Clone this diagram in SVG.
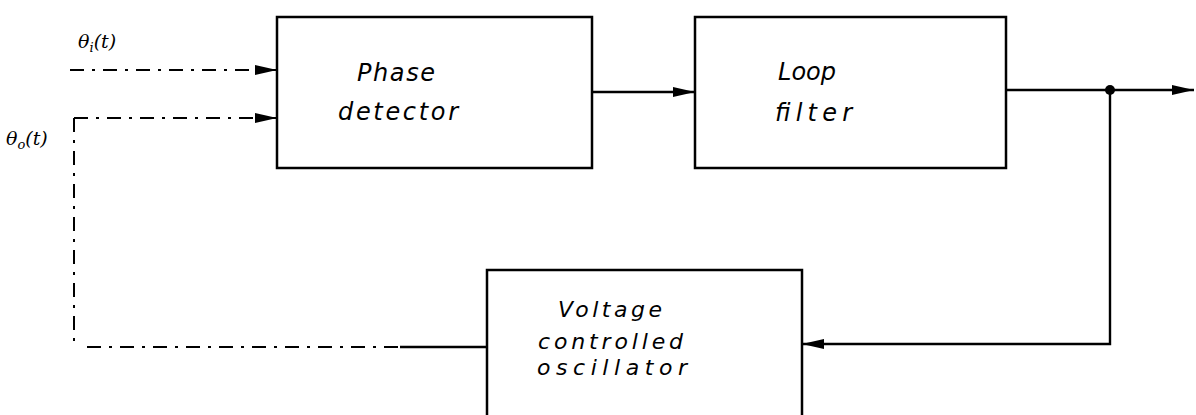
<svg xmlns="http://www.w3.org/2000/svg" width="1196" height="415" viewBox="0 0 1196 415">
<defs>
<style>
.box{fill:none;stroke:#000;stroke-width:2.5}
.ln{fill:none;stroke:#000;stroke-width:2.4}
.dash{fill:none;stroke:#000;stroke-width:2;stroke-dasharray:14 8 3 8}
.lbl{font-family:"DejaVu Sans",sans-serif;font-style:italic;font-size:24px;fill:#000}
.vco{font-size:22px}
.sig{font-family:"DejaVu Serif",serif;font-style:italic;font-size:19px;fill:#000}
</style>
<marker id="ah" viewBox="0 0 22 12" refX="22" refY="6" markerWidth="22" markerHeight="12" markerUnits="userSpaceOnUse" orient="auto">
<path d="M0,1 L22,6 L0,11 Z" fill="#000"/>
</marker>
</defs>
<rect width="1196" height="415" fill="#fff"/>
<g id="phase-detector">
<rect class="box" x="277" y="17" width="315" height="151"/>
<text class="lbl" x="357" y="81" textLength="78">Phase</text>
<text class="lbl" x="338" y="120" textLength="120">detector</text>
</g>
<g id="loop-filter">
<rect class="box" x="695" y="17" width="311" height="151"/>
<text class="lbl" x="778" y="80" textLength="58">Loop</text>
<text class="lbl" x="775" y="121" textLength="77">filter</text>
</g>
<g id="vco">
<path class="box" d="M487,415 V270 H802 V415"/>
<text class="lbl vco" x="558" y="317" textLength="104">Voltage</text>
<text class="lbl vco" x="538" y="349" textLength="145">controlled</text>
<text class="lbl vco" x="537" y="375" textLength="150">oscillator</text>
</g>
<g id="labels">
<text class="sig" x="78" y="48">θ<tspan font-size="13" dy="4">i</tspan><tspan dy="-4">(t)</tspan></text>
<text class="sig" x="6" y="145">θ<tspan font-size="13" dy="4">o</tspan><tspan dy="-4">(t)</tspan></text>
</g>
<g id="connectors">
<path class="dash" d="M70,70 H277" marker-end="url(#ah)"/>
<path class="dash" d="M74,118 H277" marker-end="url(#ah)"/>
<path class="dash" d="M74,118 V345"/>
<path class="dash" d="M87,347 H400"/>
<path class="ln" d="M400,347 H487"/>
<path class="ln" d="M592,92 H695" marker-end="url(#ah)"/>
<path class="ln" d="M1006,90 H1194" marker-end="url(#ah)"/>
<circle cx="1110" cy="90" r="5" fill="#000"/>
<path class="ln" d="M1110,90 V344 H802" marker-end="url(#ah)"/>
</g>
</svg>
